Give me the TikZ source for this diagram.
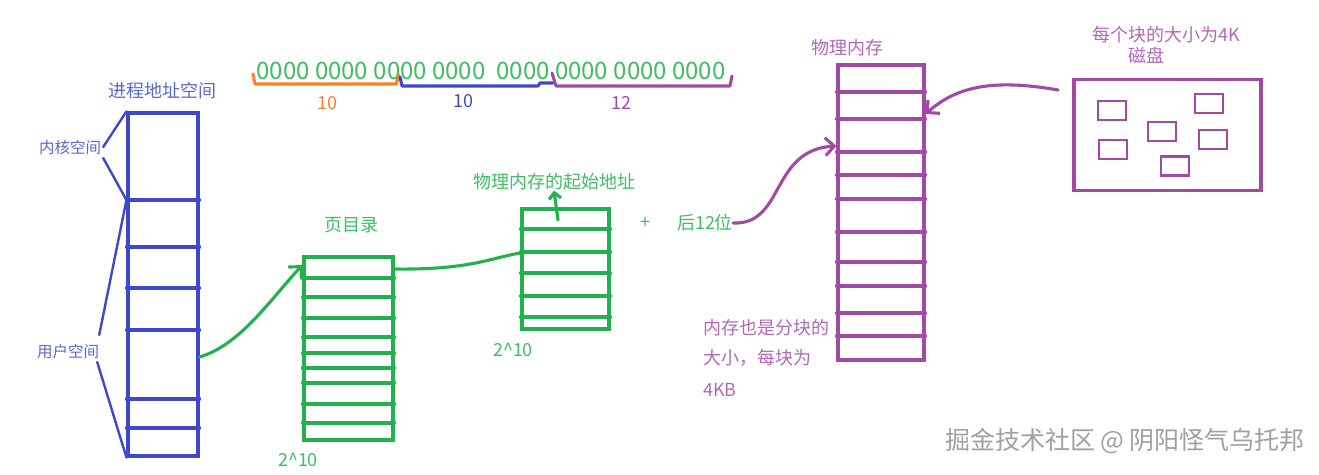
\documentclass[tikz,border=0pt]{standalone}
\usepackage{fontspec}
\newfontfamily\cjk{Noto Sans CJK SC}
\usetikzlibrary{arrows.meta}
\usetikzlibrary{positioning}

\definecolor{vasblue}{HTML}{3F48CC}
\definecolor{vastext}{HTML}{5866D4}
\definecolor{pgreen}{HTML}{22B14C}
\definecolor{ptext}{HTML}{3DBE63}
\definecolor{mpurple}{HTML}{A349A4}
\definecolor{mtext}{HTML}{B168B6}
\definecolor{borange}{HTML}{FF7F27}

\tikzset{
  label/.style={inner sep=0pt, font=\cjk\fontsize{18}{21}\selectfont},
  smalllabel/.style={inner sep=0pt, font=\cjk\fontsize{15.5}{18}\selectfont},
  table/.style={draw, line width=3.1pt, inner sep=0pt},
  hand/.style={line width=3.1pt, line cap=round, line join=round},
  tip/.style={-{Straight Barb[length=9pt,width=18pt]}},
}

\begin{document}
\begin{tikzpicture}[x=1pt,y=-1pt]
  \useasboundingbox (0,0) rectangle (1319,474);

  % process address space
  \node[table, vasblue, minimum width=70pt, minimum height=343pt] (vas) at (163,284.5) {};
  \foreach \y in {200,247,288,330,399,428}
    \draw[hand, vasblue] (vas.west |- 0,\y) -- (vas.east |- 0,\y);
  \node[label, vastext] (vastitle) at (162,91) {进程地址空间};
  \node[smalllabel, vastext] (kernel) at (70,148) {内核空间};
  \node[smalllabel, vastext] (user) at (68,352) {用户空间};
  \coordinate (split) at (vas.west |- 0,200);
  \draw[hand, vasblue, line width=2.4pt] (kernel.east) ++(2,-1) -- (vas.north west);
  \draw[hand, vasblue, line width=2.4pt] (kernel.east) ++(2,10) -- (split);
  \draw[hand, vasblue, line width=2.4pt] (user.east) ++(0,-17) -- (split);
  \draw[hand, vasblue, line width=2.4pt] (user.east) ++(-2,10) -- (vas.south west);

  % virtual address bits
  \node[inner sep=0pt, ptext, font=\cjk\fontsize{24}{26}\selectfont] (bits) at (491,71)
    {0000 0000 0000 0000\ \ 0000 0000 0000 0000};
  \draw[hand, borange] (253,74) -- (255,84) -- (396,84) -- (399,75);
  \draw[hand, vasblue] (400,77) -- (402,86) -- (538,86) -- (540,83) -- (553,83);
  \draw[hand, mpurple] (552,73) -- (556,86) -- (730,86) -- (732,76);
  \node[label, borange] (dirbits) at (327,103) {10};
  \node[label, vasblue] (tblbits) at (463,101) {10};
  \node[label, mpurple] (offbits) at (621,103) {12};

  % page directory
  \node[table, pgreen, minimum width=89pt, minimum height=183pt] (pagedir) at (348.5,348.5) {};
  \foreach \y in {278,297,318,337,353,368,383,404,423}
    \draw[hand, pgreen] (pagedir.west |- 0,\y) -- (pagedir.east |- 0,\y);
  \node[label, ptext] (dirtitle) at (351,225) {页目录};
  \node[label, ptext] (dircount) at (298,460) {2\^{}10};

  % page table
  \node[table, pgreen, minimum width=87pt, minimum height=120pt] (pagetbl) at (565.5,269) {};
  \foreach \y in {229,252,273,296,317}
    \draw[hand, pgreen] (pagetbl.west |- 0,\y) -- (pagetbl.east |- 0,\y);
  \node[label, ptext] (starttitle) at (554,182) {物理内存的起始地址};
  \node[label, ptext] (tblcount) at (513,350) {2\^{}10};
  \node[label, ptext] (plus) at (645,223) {+};
  \node[label, ptext] (offset) at (705,223) {后12位};
  \coordinate (entry) at (558,220);

  \draw[hand, pgreen, tip] (vas.east |- 0,357) .. controls (240,345) and (270,300) .. (pagedir.north west |- 0,265);
  \draw[hand, pgreen] (pagedir.east |- 0,269) .. controls (470,270) and (490,258) .. (pagetbl.west |- 0,253);
  \draw[hand, pgreen, -{Straight Barb[length=6pt,width=12pt]}] (entry) -- (starttitle.south);

  % physical memory
  \node[table, mpurple, minimum width=86pt, minimum height=295pt] (mem) at (881,212.5) {};
  \foreach \y in {92,119,152,175,199,232,262,286,313,336}
    \draw[hand, mpurple] (mem.west |- 0,\y) -- (mem.east |- 0,\y);
  \node[label, mtext] (memtitle) at (847,48) {物理内存};
  \node[label, mtext, anchor=west] (memnote1) at (703,328) {内存也是分块的};
  \node[label, mtext, anchor=west] (memnote2) at (703,358) {大小，每块为};
  \node[label, mtext, anchor=west] (memnote3) at (703,390) {4KB};
  \draw[hand, mpurple, tip] (offset.east) .. controls (785,225) and (770,150) .. (mem.west |- 0,146);

  % disk
  \node[table, mpurple, minimum width=187pt, minimum height=111pt] (disk) at (1167.5,135) {};
  \foreach \x/\y in {1112/110.5, 1209/103.5, 1162/131.5, 1213/139.5, 1113/149.5, 1175/166}
    \node[table, mpurple, line width=2.8pt, minimum width=28pt, minimum height=19pt] at (\x,\y) {};
  \node[label, mtext] (disknote) at (1166,35) {每个块的大小为4K};
  \node[label, mtext] (disktitle) at (1146,55) {磁盘};
  \coordinate (diskout) at (1058,90);
  \draw[hand, mpurple, tip] (diskout) .. controls (990,78) and (955,88) .. (mem.east |- 0,114);

  % watermark
  \node[inner sep=0pt, gray!75, font=\cjk\fontsize{25}{28}\selectfont] (mark) at (1125,441) {掘金技术社区 @ 阴阳怪气乌托邦};
\end{tikzpicture}
\end{document}
